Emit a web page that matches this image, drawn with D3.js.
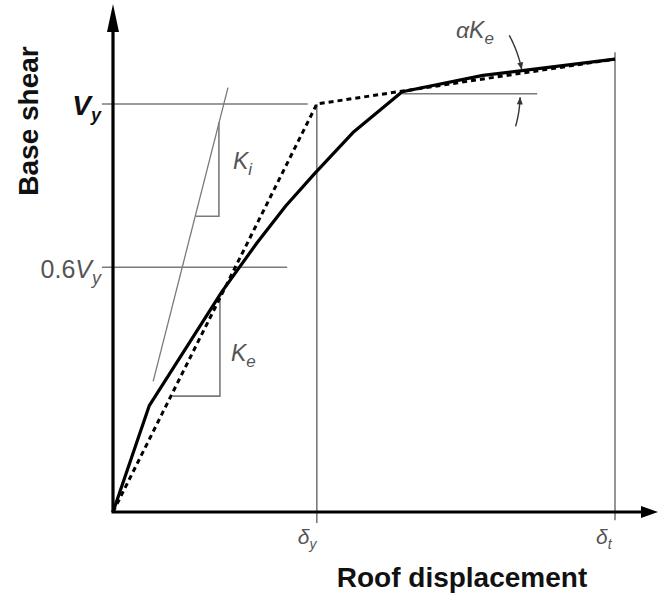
<!DOCTYPE html>
<html>
<head>
<meta charset="utf-8">
<script src="https://cdn.jsdelivr.net/npm/d3@7"></script>
<style>
  body { margin: 0; background: #fff; }
  svg { display: block; }
</style>
</head>
<body>
<svg id="chart"></svg>
<script>
// pushover curve (roof displacement, base shear / Vy), displacement in % of delta_t
const pushDisp  = [0, 7.2, 21.7, 28.7, 34.4, 40.2, 47.8, 57.6, 73.7, 100];
const pushShear = [0, 0.26, 0.54, 0.66, 0.75, 0.83, 0.93, 1.03, 1.07, 1.11];
// idealized bilinear curve
const biDisp  = [0, 40.6, 100];
const biShear = [0, 1.0, 1.11];
// initial stiffness line Ki
const kiDisp  = [8.0, 22.9];
const kiShear = [0.32, 1.04];
// stiffness triangles (foot x, corner x, base y, top y)
const triKi = [16.5, 21.1, 0.725, 0.955];
const triKe = [11.9, 21.3, 0.284, 0.525];
// tick marks on the axes
const yTicks = [1.0, 0.6];
const yTickPre = ["", "0.6"];
const xTicks = [40.6, 100];
const xTickSub = ["y", "t"];

const width = 658, height = 596;
const svg = d3.select("#chart").attr("width", width).attr("height", height);

const x = d3.scaleLinear().domain([0, 100]).range([113, 615]);
const y = d3.scaleLinear().domain([0, 1]).range([512, 104]);

const thin = "#7a7a7a";

function seg(x1, y1, x2, y2, color, w) {
    return svg.append("line")
        .attr("x1", x(x1)).attr("y1", y(y1))
        .attr("x2", x(x2)).attr("y2", y(y2))
        .attr("stroke", color).attr("stroke-width", w);
}

// reference lines at Vy and 0.6Vy
seg(-2.2, yTicks[0], 38.8, yTicks[0], thin, 1.6);
seg(-2.2, yTicks[1], 34.7, yTicks[1], thin, 1.6);
// vertical lines at delta_y, delta_t
seg(xTicks[0], 1.0, xTicks[0], -0.027, thin, 1.6);
seg(xTicks[1], 1.127, xTicks[1], -0.02, thin, 1.6);
// horizontal at knee for alpha*Ke
seg(pushDisp[7], 1.025, 84.5, 1.025, thin, 1.6);

// Ki line
seg(kiDisp[0], kiShear[0], kiDisp[1], kiShear[1], thin, 1.3);
// triangles (only two legs)
[triKi, triKe].forEach(t => {
    svg.append("path")
        .attr("d", d3.line()([[x(t[0]), y(t[2])], [x(t[1]), y(t[2])], [x(t[1]), y(t[3])]]))
        .attr("fill", "none").attr("stroke", thin).attr("stroke-width", 1.6);
});

// axes
svg.append("line").attr("x1", x(0)).attr("y1", y(0)).attr("x2", x(0)).attr("y2", 30)
    .attr("stroke", "#000").attr("stroke-width", 3.2);
svg.append("line").attr("x1", x(0) - 1.5).attr("y1", y(0)).attr("x2", 645).attr("y2", y(0))
    .attr("stroke", "#000").attr("stroke-width", 3.2);
svg.append("path").attr("d", `M${x(0)},4 L${x(0) - 6},32 L${x(0) + 6},32 Z`).attr("fill", "#000");
svg.append("path").attr("d", `M658,${y(0)} L641,${y(0) - 6} L641,${y(0) + 6} Z`).attr("fill", "#000");

// curves
const line = d3.line().x(d => x(d[0])).y(d => y(d[1]));
svg.append("path")
    .attr("d", line(biDisp.map((d, i) => [d, biShear[i]])))
    .attr("fill", "none").attr("stroke", "#000").attr("stroke-width", 3)
    .attr("stroke-dasharray", "5,4");
svg.append("path")
    .attr("d", line(pushDisp.map((d, i) => [d, pushShear[i]])))
    .attr("fill", "none").attr("stroke", "#000").attr("stroke-width", 3.2)
    .attr("stroke-linejoin", "round");

// alpha Ke angle arcs, centred at the knee
const kx = x(pushDisp[7]), ky = y(1.025);
function arcArrow(r, a0, a1) {
    const pts = d3.range(0, 1.001, 0.05).map(t => {
        const a = a0 + (a1 - a0) * t;
        return [kx + r * Math.cos(a), ky + r * Math.sin(a)];
    });
    svg.append("path").attr("d", d3.line()(pts))
        .attr("fill", "none").attr("stroke", "#333").attr("stroke-width", 1.4);
    const p = pts[pts.length - 1], q = pts[pts.length - 3];
    const ang = Math.atan2(p[1] - q[1], p[0] - q[0]);
    const L = 7, W = 3;
    const bx = p[0] - L * Math.cos(ang), by = p[1] - L * Math.sin(ang);
    svg.append("path")
        .attr("d", `M${p[0]},${p[1]} L${bx - W * Math.sin(ang)},${by + W * Math.cos(ang)} L${bx + W * Math.sin(ang)},${by - W * Math.cos(ang)} Z`)
        .attr("fill", "#333");
}
arcArrow(122, -0.5, -0.2);
arcArrow(118, 0.28, 0.03);

// labels
const sans = "'Liberation Sans', Arial, sans-serif";
svg.append("text")
    .attr("transform", "translate(38,121) rotate(-90)")
    .attr("text-anchor", "middle").attr("font-family", sans).attr("font-weight", "bold")
    .attr("font-size", 28).attr("fill", "#111").text("Base shear");
svg.append("text")
    .attr("x", 462).attr("y", 587)
    .attr("text-anchor", "middle").attr("font-family", sans).attr("font-weight", "bold")
    .attr("font-size", 28).attr("fill", "#111").text("Roof displacement");

yTicks.forEach((v, i) => {
    const t = svg.append("text").attr("x", x(0) - 12).attr("y", y(v) + 11)
        .attr("text-anchor", "end").attr("font-family", sans);
    if (yTickPre[i]) {
        t.append("tspan").attr("font-size", 25).attr("fill", "#555").text(yTickPre[i]);
        t.append("tspan").attr("font-size", 25).attr("font-style", "italic").attr("fill", "#555").text("V");
    } else {
        t.append("tspan").attr("font-size", 28).attr("font-style", "italic").attr("font-weight", "bold")
            .attr("fill", "#111").text("V");
    }
    t.append("tspan").attr("font-size", 18).attr("font-style", "italic").attr("dy", 6)
        .attr("font-weight", yTickPre[i] ? "normal" : "bold")
        .attr("fill", yTickPre[i] ? "#555" : "#111").text("y");
});

xTicks.forEach((v, i) => {
    const t = svg.append("text").attr("x", x(v) - 19).attr("y", y(0) + 32)
        .attr("font-family", sans).attr("font-style", "italic").attr("fill", "#555");
    t.append("tspan").attr("font-size", 21).text("δ");
    t.append("tspan").attr("font-size", 14).attr("dy", 5).text(xTickSub[i]);
});

function symLabel(px, py, main, sub) {
    const t = svg.append("text").attr("x", px).attr("y", py)
        .attr("font-family", sans).attr("font-style", "italic").attr("fill", "#555");
    t.append("tspan").attr("font-size", 23).text(main);
    t.append("tspan").attr("font-size", 17).attr("dy", 6).text(sub);
}
symLabel(x(triKi[1]) + 14, y(0.84), "K", "i");
symLabel(x(triKe[1]) + 11, y(0.37), "K", "e");
symLabel(456, 38, "αK", "e");
</script>
</body>
</html>
